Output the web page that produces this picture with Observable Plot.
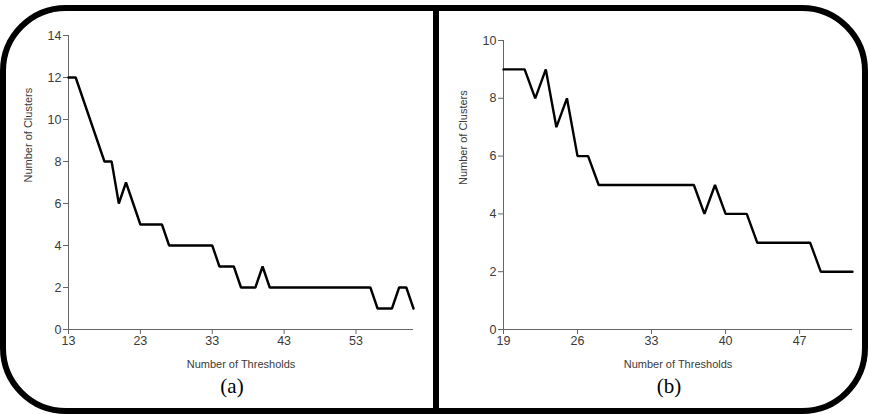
<!DOCTYPE html>
<html>
<head>
<meta charset="utf-8">
<script src="https://cdn.jsdelivr.net/npm/d3@7"></script>
<script src="https://cdn.jsdelivr.net/npm/@observablehq/plot@0.6"></script>
<style>
  html, body { margin: 0; padding: 0; background: white; }
  #wrap { position: relative; width: 869px; height: 414px; overflow: hidden; background: white; }
  #wrap svg { position: absolute; top: 0; }
  #border { position: absolute; left: 0; top: 5px; width: 868px; height: 409px; box-sizing: border-box;
            border: 6px solid #000; border-radius: 66px; pointer-events: none; }
  #divider { position: absolute; left: 433px; top: 5px; width: 6px; height: 409px; background: #000; }
</style>
</head>
<body>
<div id="wrap"></div>
<script>
// Panel (a)
const thresholdsA = [13,14,15,16,17,18,19,20,21,22,23,24,25,26,27,28,29,30,31,32,33,34,35,36,37,38,39,40,41,42,43,44,45,46,47,48,49,50,51,52,53,54,55,56,57,58,59,60,61];
const clustersA   = [12,12,11,10,9,8,8,6,7,6,5,5,5,5,4,4,4,4,4,4,4,3,3,3,2,2,2,3,2,2,2,2,2,2,2,2,2,2,2,2,2,2,2,1,1,1,2,2,1];
const xTicksA = [13,23,33,43,53];
const yTicksA = [0,2,4,6,8,10,12,14];
const xDomainA = [13,61];
const yDomainA = [0,14];

// Panel (b)
const thresholdsB = [19,20,21,22,23,24,25,26,27,28,29,30,31,32,33,34,35,36,37,38,39,40,41,42,43,44,45,46,47,48,49,50,51,52];
const clustersB   = [9,9,9,8,9,7,8,6,6,5,5,5,5,5,5,5,5,5,5,4,5,4,4,4,3,3,3,3,3,3,2,2,2,2];
const xTicksB = [19,26,33,40,47];
const yTicksB = [0,2,4,6,8,10];
const xDomainB = [19,52];
const yDomainB = [0,10];

const xLabel = "Number of Thresholds";
const yLabel = "Number of Clusters";
const panelLabels = ["(a)", "(b)"];

const sans = "'Liberation Sans', Arial, sans-serif";
const serif = "'Liberation Serif', 'Times New Roman', serif";

function panel({xs, ys, xTicks, yTicks, xDomain, yDomain, width, mL, mR, mT, tag, tagDx}) {
  const data = xs.map((x, i) => ({x, y: ys[i]}));
  return Plot.plot({
    width, height: 414,
    marginLeft: mL, marginRight: mR, marginTop: mT, marginBottom: 85,
    style: {background: "transparent", fontFamily: sans, fontSize: "12px", color: "#3a3a3a", overflow: "visible"},
    x: {domain: xDomain},
    y: {domain: yDomain},
    marks: [
      Plot.ruleX([xDomain[0]], {stroke: "#666", strokeWidth: 1}),
      Plot.ruleY([yDomain[0]], {stroke: "#666", strokeWidth: 1}),
      Plot.axisX({ticks: xTicks, tickSize: 5, tickPadding: 2, label: null, stroke: "#666", fill: "#3a3a3a", fontSize: 12.5}),
      Plot.axisY({ticks: yTicks, tickSize: 5, tickPadding: 2, label: null, stroke: "#666", fill: "#3a3a3a", fontSize: 12.5}),
      Plot.line(data, {x: "x", y: "y", stroke: "#000", strokeWidth: 2.4, strokeLinejoin: "miter"}),
      Plot.text([xLabel], {frameAnchor: "bottom", dy: 38, fontSize: 11, fill: "#3a3a3a", fontFamily: sans}),
      Plot.text([yLabel], {frameAnchor: "left", dx: -40, rotate: -90, fontSize: 11, fill: "#3a3a3a", fontFamily: sans}),
      Plot.text([tag], {frameAnchor: "bottom", dy: 63, dx: tagDx, fontSize: 21, fill: "#000", fontFamily: serif})
    ]
  });
}

const wrap = document.getElementById("wrap");
const a = panel({xs: thresholdsA, ys: clustersA, xTicks: xTicksA, yTicks: yTicksA, xDomain: xDomainA, yDomain: yDomainA,
                 width: 435, mL: 68, mR: 22, mT: 35, tag: panelLabels[0], tagDx: -9});
a.style.left = "0px";
wrap.appendChild(a);
const b = panel({xs: thresholdsB, ys: clustersB, xTicks: xTicksB, yTicks: yTicksB, xDomain: xDomainB, yDomain: yDomainB,
                 width: 434, mL: 68, mR: 17, mT: 40, tag: panelLabels[1], tagDx: -9});
b.style.left = "435px";
wrap.appendChild(b);

const divider = document.createElement("div"); divider.id = "divider"; wrap.appendChild(divider);
const border = document.createElement("div"); border.id = "border"; wrap.appendChild(border);
</script>
</body>
</html>
